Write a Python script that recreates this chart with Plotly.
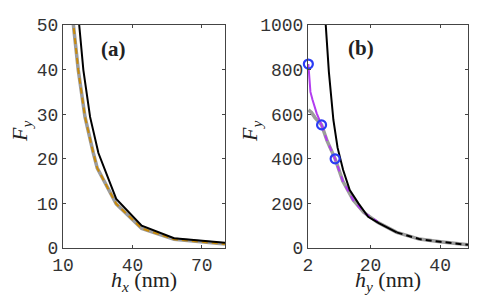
import plotly.graph_objects as go

# ---- Panel (a) data ----
a_black_x = [15, 17, 18.8, 21.7, 25.3, 33, 44, 58, 80]
a_black_y = [59, 50, 39.9, 29.4, 21.3, 11, 5.0, 2.2, 1.2]
a_orange_x = [13.5, 14.5, 16.6, 19.5, 23.1, 24.8, 33, 44, 58, 80]
a_orange_y = [56, 50, 39.9, 29.4, 21.3, 17.9, 9.9, 4.4, 1.95, 0.9]

# ---- Panel (b) data ----
b_black_x = [7.1, 8, 9.3, 10.5, 12.1, 14, 16.5, 19.3, 22.5, 27.5]
b_black_y = [1000, 790, 574, 450, 350, 260, 200, 140, 110, 70]
b_tail_x = [27.5, 34, 40, 48]
b_tail_y = [70, 40, 28, 14]
b_gray_x = [2.1, 3, 4, 5.9, 7.5, 9.8, 12, 15, 18, 22, 27.5, 34, 40, 48]
b_gray_y = [619, 608, 585, 552, 480, 400, 300, 215, 160, 115, 70, 40, 28, 14]
b_purple_x = [2.1, 2.3, 2.7, 3.3, 4.5, 5.9, 7.5, 9.8, 12, 15, 18, 22]
b_purple_y = [825, 770, 700, 665, 604, 552, 480, 400, 300, 215, 160, 118]
b_circ_x = [2.1, 5.9, 9.8]
b_circ_y = [825, 552, 400]

W, H = 479, 299
OFF = 8  # page body margin in the browser
def px(x): return (x - OFF) / W
def py(y): return 1 - (y - OFF) / H

ORANGE = "#c88a0a"
GRAY = "#9c9c9c"
PURPLE = "#b23cf0"
BLUE = "#2a3cf5"

fig = go.Figure()
# panel a
fig.add_trace(go.Scatter(x=a_orange_x, y=a_orange_y, mode="lines",
                         line=dict(color=GRAY, width=3.5), xaxis="x", yaxis="y"))
fig.add_trace(go.Scatter(x=a_orange_x, y=a_orange_y, mode="lines",
                         line=dict(color=ORANGE, width=2, dash="6px,4px"), xaxis="x", yaxis="y"))
fig.add_trace(go.Scatter(x=a_black_x, y=a_black_y, mode="lines",
                         line=dict(color="black", width=2), xaxis="x", yaxis="y"))
# panel b
fig.add_trace(go.Scatter(x=b_gray_x, y=b_gray_y, mode="lines",
                         line=dict(color=GRAY, width=3.5), xaxis="x2", yaxis="y2"))
fig.add_trace(go.Scatter(x=b_purple_x[:6], y=b_purple_y[:6], mode="lines",
                         line=dict(color=PURPLE, width=2), xaxis="x2", yaxis="y2"))
fig.add_trace(go.Scatter(x=b_purple_x[5:], y=b_purple_y[5:], mode="lines",
                         line=dict(color=PURPLE, width=2, dash="6px,5px"), xaxis="x2", yaxis="y2"))
fig.add_trace(go.Scatter(x=b_black_x, y=b_black_y, mode="lines",
                         line=dict(color="black", width=2), xaxis="x2", yaxis="y2"))
fig.add_trace(go.Scatter(x=b_tail_x, y=b_tail_y, mode="lines",
                         line=dict(color="black", width=2, dash="6px,4px"), xaxis="x2", yaxis="y2"))
fig.add_trace(go.Scatter(x=b_circ_x, y=b_circ_y, mode="markers",
                         marker=dict(symbol="circle-open", size=9, color=BLUE, line=dict(width=2.2, color=BLUE)),
                         cliponaxis=False, xaxis="x2", yaxis="y2"))

tickfont = dict(family="Liberation Mono", size=18, color="#333333")
common = dict(showline=True, mirror="ticks", linecolor="#444444", linewidth=1,
              ticks="inside", ticklen=3, tickcolor="#444444", showgrid=False,
              zeroline=False, tickfont=tickfont, automargin=False)

fig.update_layout(
    width=W, height=H, margin=dict(l=0, r=0, t=0, b=0, autoexpand=False),
    paper_bgcolor="white", plot_bgcolor="white", showlegend=False,
    xaxis=dict(domain=[px(63), px(225)], range=[10, 80], tickvals=[10, 40, 70], anchor="y", **common),
    yaxis=dict(domain=[py(248), py(25)], range=[0, 50], tickvals=[0, 10, 20, 30, 40, 50], anchor="x", **common),
    xaxis2=dict(domain=[px(308), px(468)], range=[2, 48], tickvals=[2, 20, 40], anchor="y2", **common),
    yaxis2=dict(domain=[py(248), py(25)], range=[0, 1000], tickvals=[0, 200, 400, 600, 800, 1000], anchor="x2", **common),
)

lab = dict(family="Liberation Serif", size=22, color="#222222")
pl = dict(family="Liberation Serif", size=21, color="#222222")
ann = [
    dict(x=px(144), y=py(281), text="<i>h</i><sub><i>x</i></sub> (nm)"),
    dict(x=px(388), y=py(281), text="<i>h</i><sub><i>y</i></sub> (nm)"),
    dict(x=px(21), y=py(132), text="<i>F</i><sub><i>y</i></sub>", textangle=-90),
    dict(x=px(251), y=py(132), text="<i>F</i><sub><i>y</i></sub>", textangle=-90),
    dict(x=px(113), y=py(49), text="<b>(a)</b>", font=pl),
    dict(x=px(361), y=py(48), text="<b>(b)</b>", font=pl),
]
for a in ann:
    a.setdefault("font", lab)
    a.update(xref="paper", yref="paper", showarrow=False, xanchor="center", yanchor="middle")
fig.update_layout(annotations=ann)

fig.write_html("out.html")
